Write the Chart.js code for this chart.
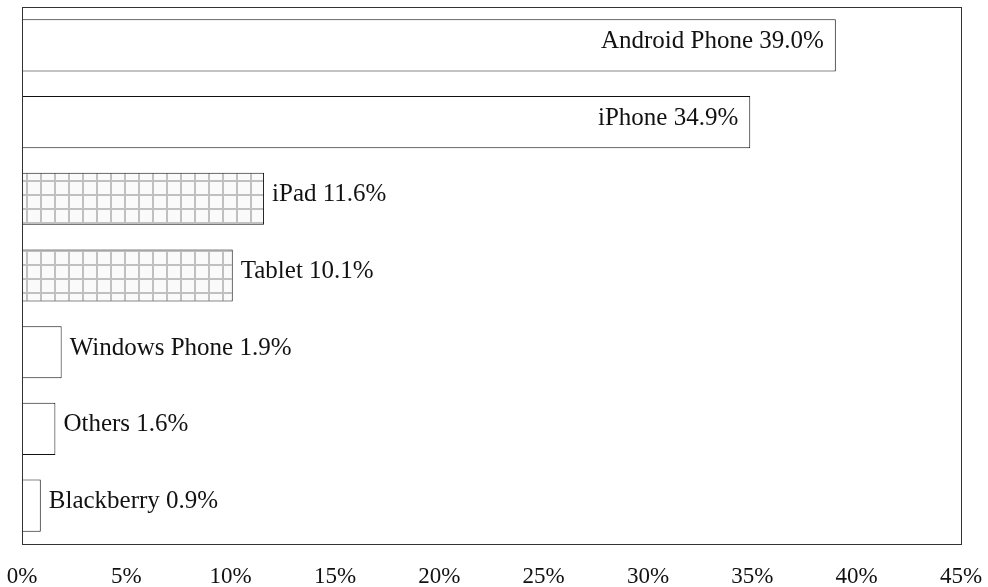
<!DOCTYPE html>
<html>
<head>
<meta charset="utf-8">
<script src="https://cdn.jsdelivr.net/npm/chart.js@4"></script>
<style>
  html, body { margin: 0; padding: 0; background: #fff; }
  #wrap { width: 988px; height: 587px; }
</style>
</head>
<body>
<div id="wrap"><canvas id="deviceChart" width="988" height="587"></canvas></div>
<script>
// Data
const categories = ['Android Phone', 'iPhone', 'iPad', 'Tablet', 'Windows Phone', 'Others', 'Blackberry'];
const shares = [39.0, 34.9, 11.6, 10.1, 1.9, 1.6, 0.9];
const tickValues = [0, 5, 10, 15, 20, 25, 30, 35, 40, 45];

// Categories drawn with the grid hatch
const hatched = ['iPad', 'Tablet'];

const serif = '"Liberation Serif", "Times New Roman", serif';

// Build a small grey grid pattern for the tablet bars
function gridPattern() {
    const c = document.createElement('canvas');
    c.width = 14;
    c.height = 14;
    const g = c.getContext('2d');
    g.fillStyle = '#fafafa';
    g.fillRect(0, 0, 14, 14);
    g.fillStyle = '#c0c0c0';
    g.fillRect(12, 0, 2, 14);
    g.fillRect(0, 12, 14, 2);
    return g.createPattern(c, 'repeat');
}

const ctx = document.getElementById('deviceChart').getContext('2d');
const hatch = gridPattern();
const fills = categories.map(name => hatched.includes(name) ? hatch : '#ffffff');

// Frame around the plot area
const frame = {
    id: 'frame',
    afterDraw(chart) {
        const a = chart.chartArea;
        const c = chart.ctx;
        c.save();
        c.strokeStyle = '#333';
        c.lineWidth = 1;
        c.strokeRect(Math.round(a.left) + 0.5, Math.round(a.top) + 0.5,
            Math.round(a.right - a.left), Math.round(a.bottom - a.top));
        c.restore();
    }
};

// Value labels: inside the bar for the long ones, after it for the rest
const barLabels = {
    id: 'barLabels',
    afterDatasetsDraw(chart) {
        const c = chart.ctx;
        const meta = chart.getDatasetMeta(0);
        c.save();
        c.font = '25px ' + serif;
        c.fillStyle = '#111';
        c.textBaseline = 'middle';
        meta.data.forEach((bar, i) => {
            const text = categories[i] + ' ' + shares[i].toFixed(1) + '%';
            if (shares[i] > 20) {
                c.textAlign = 'right';
                c.fillText(text, bar.x - 12, bar.y - 4);
            } else {
                c.textAlign = 'left';
                c.fillText(text, bar.x + 8, bar.y - 4);
            }
        });
        c.restore();
    }
};

new Chart(ctx, {
    type: 'bar',
    data: {
        labels: categories,
        datasets: [{
            data: shares,
            backgroundColor: fills,
            borderColor: '#111',
            borderWidth: 1,
            borderSkipped: false,
            categoryPercentage: 0.68,
            barPercentage: 1.0
        }]
    },
    options: {
        indexAxis: 'y',
        responsive: false,
        animation: false,
        layout: { padding: { left: 22, right: 27, top: 7, bottom: 0 } },
        plugins: {
            legend: { display: false },
            tooltip: { enabled: false }
        },
        scales: {
            x: {
                min: 0,
                max: 45,
                grid: { display: false },
                border: { display: false },
                afterBuildTicks(axis) {
                    axis.ticks = tickValues.map(v => ({ value: v }));
                },
                afterFit(axis) {
                    // fixed axis band, and let the end labels hang over the padding
                    axis.height = 43;
                    axis.paddingLeft = 0;
                    axis.paddingRight = 0;
                },
                ticks: {
                    padding: 11,
                    maxRotation: 0,
                    color: '#111',
                    font: { family: serif, size: 23 },
                    callback: v => v + '%'
                }
            },
            y: {
                display: false
            }
        }
    },
    plugins: [frame, barLabels]
});
</script>
</body>
</html>
